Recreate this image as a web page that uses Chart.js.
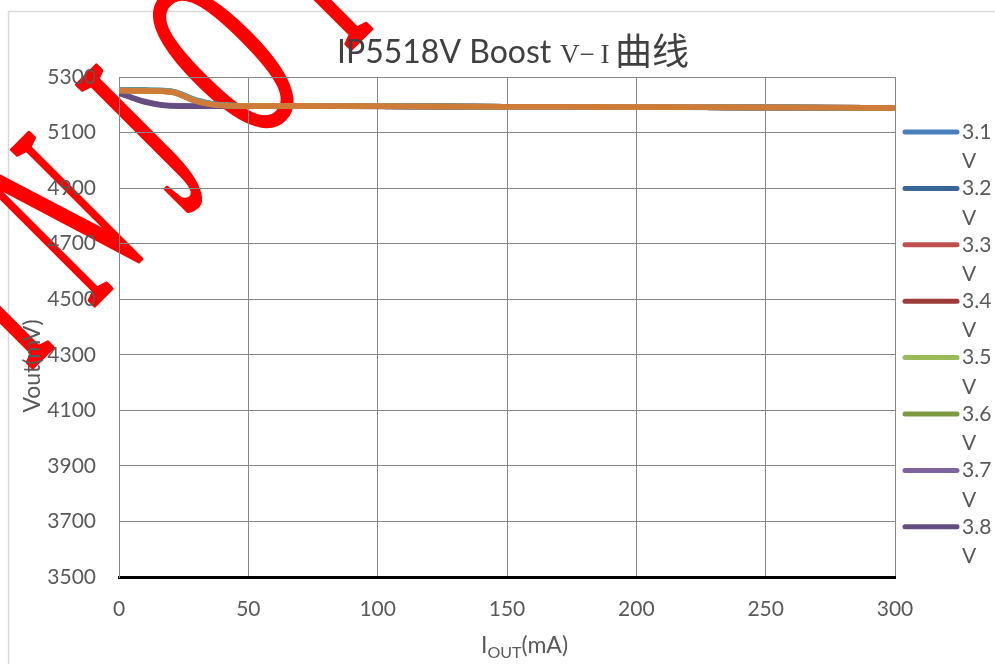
<!DOCTYPE html>
<html>
<head>
<meta charset="utf-8">
<script src="https://cdn.jsdelivr.net/npm/chart.js@4.4.1/dist/chart.umd.min.js"></script>
<style>
  html, body { margin: 0; padding: 0; background: #fff; }
  #wrap { width: 995px; height: 664px; }
</style>
</head>
<body>
<div id="wrap"><canvas id="chart" width="995" height="664"></canvas></div>
<script>
// X axis: output current (mA)
const currents = [0, 10, 20, 30, 40, 50, 100, 150, 200, 250, 300];

// Vout (mV) per input voltage
const vout31 = [5252, 5251, 5248, 5214, 5198, 5196, 5195, 5193, 5192, 5190, 5189];
const vout32 = [5253, 5252, 5249, 5216, 5199, 5196, 5195, 5193, 5192, 5190, 5189];
const vout33 = [5252, 5251, 5248, 5215, 5198, 5196, 5195, 5193, 5192, 5190, 5189];
const vout34 = [5252, 5251, 5247, 5214, 5198, 5196, 5195, 5193, 5192, 5190, 5189];
const vout35 = [5252, 5251, 5248, 5215, 5198, 5196, 5195, 5193, 5192, 5190, 5189];
const vout36 = [5252, 5251, 5247, 5214, 5198, 5196, 5195, 5193, 5192, 5190, 5189];
const vout37 = [5243, 5212, 5197, 5196, 5196, 5196, 5195, 5193, 5192, 5190, 5189];
const vout38 = [5242, 5210, 5196, 5195, 5195, 5195, 5194, 5193, 5192, 5190, 5188];
const vout39 = [5253, 5252, 5249, 5217, 5199, 5196, 5195, 5193, 5192, 5190, 5189];
const vout40 = [5252, 5251, 5248, 5215, 5198, 5196, 5195, 5193, 5192, 5190, 5189];
const vout41 = [5251, 5250, 5247, 5213, 5197, 5196, 5195, 5193, 5192, 5190, 5189];
const vout42 = [5251, 5250, 5247, 5212, 5197, 5196, 5195, 5193, 5192, 5190, 5189];

const seriesLabels = ['3.1V', '3.2V', '3.3V', '3.4V', '3.5V', '3.6V', '3.7V', '3.8V', '3.9V', '4.0V', '4.1V', '4.2V'];
const seriesValues = [vout31, vout32, vout33, vout34, vout35, vout36, vout37, vout38, vout39, vout40, vout41, vout42];
const seriesColors = ['#4A7EBB', '#3A6597', '#C0504D', '#9C3B38', '#9BBB59', '#7D9A43',
                      '#8064A2', '#654D82', '#4BACC6', '#31859C', '#F79646', '#CD7B37'];

// axis ranges / ticks
const yMin = 3500, yMax = 5300, yStep = 200;
const xMin = 0, xMax = 300, xStep = 50;

const LEGEND_SHOWN = 8; // the legend in the picture is cut after 3.8V
const TXT = '#595959';
const GRID = '#878787';

Chart.defaults.font.family = 'Lato';

function drawWatermark(ctx) {
  const word = 'INJOINIC';
  ctx.save();
  ctx.fillStyle = '#ff0000';
  ctx.strokeStyle = '#ff0000';
  ctx.lineJoin = 'round';
  ctx.font = '257px "Liberation Serif"';
  ctx.textBaseline = 'alphabetic';
  ctx.translate(29, 371);
  ctx.rotate(-Math.PI / 4);
  let x = 0;
  for (const ch of word) {
    ctx.save();
    ctx.translate(x, 0);
    ctx.scale(0.45, 1);
    ctx.lineWidth = 4;
    ctx.fillText(ch, 0, 0);
    ctx.strokeText(ch, 0, 0);
    ctx.restore();
    x += ctx.measureText(ch).width * 0.45 + 50;
  }
  ctx.restore();
}

const background = {
  id: 'background',
  beforeDraw(chart) {
    const ctx = chart.ctx;
    ctx.save();
    ctx.fillStyle = '#fff';
    ctx.fillRect(0, 0, chart.width, chart.height);
    ctx.strokeStyle = '#D9D9D9';
    ctx.lineWidth = 1.5;
    ctx.strokeRect(8.5, 11.5, 1100, 800);
    ctx.restore();
    drawWatermark(ctx);
  }
};

const decorations = {
  id: 'decorations',
  afterDraw(chart) {
    const ctx = chart.ctx;
    ctx.save();
    ctx.textBaseline = 'alphabetic';

    // title
    ctx.fillStyle = '#404040';
    ctx.font = '32px Lato';
    ctx.textAlign = 'left';
    ctx.fillText('IP5518V Boost', 337, 63);
    ctx.font = '27px "Liberation Serif"';
    ctx.fillText('V', 560, 63);
    ctx.textAlign = 'center';
    ctx.fillText('\u2212', 587, 63);
    ctx.fillText('I', 605, 63);
    ctx.textAlign = 'left';
    ctx.font = '37px "Noto Sans CJK SC"';
    ctx.fillText('曲线', 615, 65);

    // y axis title
    ctx.fillStyle = TXT;
    ctx.save();
    ctx.translate(40, 366);
    ctx.rotate(-Math.PI / 2);
    ctx.textAlign = 'center';
    ctx.font = '23px Lato';
    ctx.fillText('Vout(mV)', 0, 0);
    ctx.restore();

    // x axis title with subscript
    ctx.textAlign = 'left';
    let x = 481;
    ctx.font = '23px Lato';
    ctx.fillText('I', x, 653);
    x += ctx.measureText('I').width;
    ctx.font = '16px Lato';
    ctx.fillText('OUT', x, 658);
    x += ctx.measureText('OUT').width;
    ctx.font = '23px Lato';
    ctx.fillText('(mA)', x, 653);

    // legend (right side, truncated)
    ctx.font = '21px Lato';
    ctx.textBaseline = 'middle';
    chart.data.datasets.slice(0, LEGEND_SHOWN).forEach((ds, i) => {
      const y = 132 + i * 56.4;
      ctx.strokeStyle = ds.borderColor;
      ctx.lineWidth = 5;
      ctx.lineCap = 'round';
      ctx.beginPath();
      ctx.moveTo(905, y);
      ctx.lineTo(957, y);
      ctx.stroke();
      const parts = ds.label.match(/^([\d.]+)(V)$/);
      ctx.fillStyle = TXT;
      ctx.fillText(parts[1], 962, y);
      ctx.fillText(parts[2], 962, y + 29.5);
    });
    ctx.restore();
  }
};

const datasets = seriesValues.map((vals, i) => ({
  label: seriesLabels[i],
  data: vals.map((v, k) => ({ x: currents[k], y: v })),
  borderColor: seriesColors[i],
  backgroundColor: seriesColors[i],
  borderWidth: 5.5,
  pointRadius: 0,
  cubicInterpolationMode: 'monotone',
  order: seriesValues.length - i
}));

const tickFont = { family: 'Lato', size: 21 };

new Chart(document.getElementById('chart'), {
  type: 'line',
  data: { datasets },
  options: {
    responsive: false,
    animation: false,
    layout: { padding: { top: 77, right: 100, bottom: 0, left: 0 } },
    plugins: {
      legend: { display: false },
      title: { display: false },
      tooltip: { enabled: false }
    },
    scales: {
      x: {
        type: 'linear',
        min: xMin,
        max: xMax,
        ticks: { stepSize: xStep, padding: 20, color: TXT, font: tickFont, maxRotation: 0,
                 callback: v => String(v) },
        grid: { color: GRID, lineWidth: 1, drawTicks: false },
        border: { color: '#000', width: 3 },
        afterFit: s => { s.height = 87; }
      },
      y: {
        min: yMin,
        max: yMax,
        ticks: { stepSize: yStep, padding: 23, color: TXT, font: tickFont,
                 callback: v => String(v) },
        grid: { color: GRID, lineWidth: 1, drawTicks: false },
        border: { color: GRID, width: 1 },
        afterFit: s => { s.width = 119; }
      }
    }
  },
  plugins: [background, decorations]
});
</script>
</body>
</html>
